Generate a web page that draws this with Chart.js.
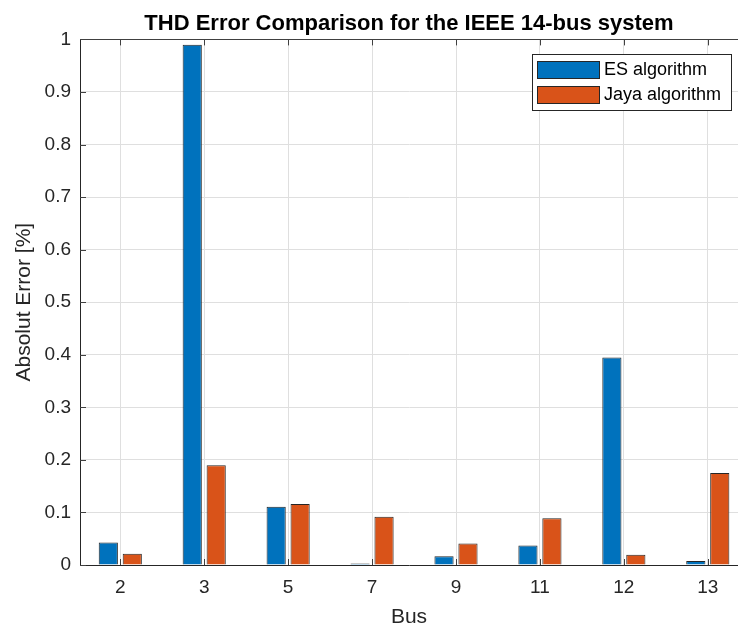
<!DOCTYPE html>
<html>
<head>
<meta charset="utf-8">
<title>THD Error Comparison</title>
<script src="https://cdn.jsdelivr.net/npm/chart.js@4.4.1/dist/chart.umd.min.js"></script>
<style>
    html, body { margin: 0; padding: 0; background: #ffffff; }
    #wrap { width: 738px; height: 628px; }
</style>
</head>
<body>
<div id="wrap"><canvas id="thdChart" width="738" height="628"></canvas></div>
<script>
// -- DATA --
const buses = ['2', '3', '5', '7', '9', '11', '12', '13'];
const esError = [0.043, 0.990, 0.111, 0.003, 0.0165, 0.037, 0.395, 0.0076];
const jayaError = [0.0215, 0.190, 0.116, 0.092, 0.041, 0.089, 0.0196, 0.175];
const yTickValues = [0, 0.1, 0.2, 0.3, 0.4, 0.5, 0.6, 0.7, 0.8, 0.9, 1];
const yTickLabels = ['0', '0.1', '0.2', '0.3', '0.4', '0.5', '0.6', '0.7', '0.8', '0.9', '1'];

const FONT = "'Liberation Sans', Arial, Helvetica, sans-serif";
const AXIS_COLOR = '#262626';
const GRID_COLOR = '#dfdfdf';

// MATLAB style: ticks point into the plot, box on top
const innerTicks = {
    id: 'innerTicks',
    afterDatasetsDraw(chart) {
        const { ctx, chartArea: a, scales: { x, y } } = chart;
        ctx.save();
        ctx.strokeStyle = '#404040';
        ctx.lineWidth = 1;
        ctx.beginPath();
        // top border
        ctx.moveTo(a.left, Math.round(a.top) + 0.5);
        ctx.lineTo(a.right, Math.round(a.top) + 0.5);
        x.ticks.forEach(t => {
            const px = Math.round(x.getPixelForValue(t.value)) + 0.5;
            ctx.moveTo(px, a.bottom);
            ctx.lineTo(px, a.bottom - 6);
            ctx.moveTo(px, a.top);
            ctx.lineTo(px, a.top + 6);
        });
        y.ticks.forEach(t => {
            const py = Math.round(y.getPixelForValue(t.value)) + 0.5;
            ctx.moveTo(a.left, py);
            ctx.lineTo(a.left + 6, py);
        });
        ctx.stroke();
        ctx.restore();
    }
};

// boxed legend in the upper right corner
const boxLegend = {
    id: 'boxLegend',
    afterDraw(chart) {
        const ctx = chart.ctx;
        const bx = 532, by = 54, bw = 199, bh = 56;
        ctx.save();
        ctx.fillStyle = '#ffffff';
        ctx.fillRect(bx, by, bw, bh);
        ctx.strokeStyle = AXIS_COLOR;
        ctx.lineWidth = 1;
        ctx.strokeRect(bx + 0.5, by + 0.5, bw, bh);
        ctx.font = '18px ' + FONT;
        ctx.textBaseline = 'middle';
        ctx.textAlign = 'left';
        chart.data.datasets.forEach((ds, i) => {
            const sy = by + 7 + i * 25;
            ctx.fillStyle = ds.backgroundColor;
            ctx.fillRect(bx + 5, sy, 62, 17);
            ctx.strokeStyle = AXIS_COLOR;
            ctx.strokeRect(bx + 5.5, sy + 0.5, 62, 17);
            ctx.fillStyle = '#000000';
            ctx.fillText(ds.label, bx + 72, sy + 9);
        });
        ctx.restore();
    }
};

function toPoints(values) {
    return values.map((v, i) => ({ x: i, y: v }));
}

document.addEventListener('DOMContentLoaded', () => {
    new Chart(document.getElementById('thdChart'), {
        type: 'bar',
        data: {
            datasets: [
                { label: 'ES algorithm', data: toPoints(esError), backgroundColor: '#0072BD', borderColor: AXIS_COLOR, borderWidth: 1 },
                { label: 'Jaya algorithm', data: toPoints(jayaError), backgroundColor: '#D95319', borderColor: AXIS_COLOR, borderWidth: 1 }
            ]
        },
        options: {
            responsive: false,
            animation: false,
            devicePixelRatio: 1,
            layout: { padding: 0 },
            datasets: { bar: { categoryPercentage: 0.571, barPercentage: 0.8 } },
            plugins: {
                legend: { display: false },
                tooltip: { enabled: false },
                title: {
                    display: true,
                    fullSize: false,
                    text: 'THD Error Comparison for the IEEE 14-bus system',
                    color: '#000000',
                    font: { family: FONT, size: 22, weight: 'bold', lineHeight: 1.2 },
                    padding: { top: 11, bottom: 2 }
                }
            },
            scales: {
                x: {
                    type: 'linear',
                    offset: false,
                    min: -0.48,
                    max: 7.36,
                    afterBuildTicks: s => { s.ticks = buses.map((b, i) => ({ value: i })); },
                    afterFit: s => { s.height = 63; },
                    ticks: {
                        color: AXIS_COLOR,
                        padding: 11,
                        maxRotation: 0,
                        font: { family: FONT, size: 19 },
                        callback: v => buses[v]
                    },
                    grid: { color: GRID_COLOR, drawTicks: false, offset: false },
                    border: { color: AXIS_COLOR, width: 1 },
                    title: {
                        display: true,
                        text: 'Bus',
                        color: AXIS_COLOR,
                        font: { family: FONT, size: 21, lineHeight: 1 },
                        padding: { top: 0, bottom: 0 }
                    }
                },
                y: {
                    min: 0,
                    max: 1,
                    afterBuildTicks: s => { s.ticks = yTickValues.map(v => ({ value: v })); },
                    afterFit: s => { s.width = 80; },
                    ticks: {
                        color: AXIS_COLOR,
                        padding: 9,
                        font: { family: FONT, size: 19 },
                        callback: (v, i) => yTickLabels[i]
                    },
                    grid: { color: GRID_COLOR, drawTicks: false },
                    border: { color: AXIS_COLOR, width: 1 },
                    title: {
                        display: true,
                        text: 'Absolut Error [%]',
                        color: AXIS_COLOR,
                        font: { family: FONT, size: 21, lineHeight: 1 },
                        padding: { top: 14, bottom: 0 }
                    }
                }
            }
        },
        plugins: [innerTicks, boxLegend]
    });
});
</script>
</body>
</html>
